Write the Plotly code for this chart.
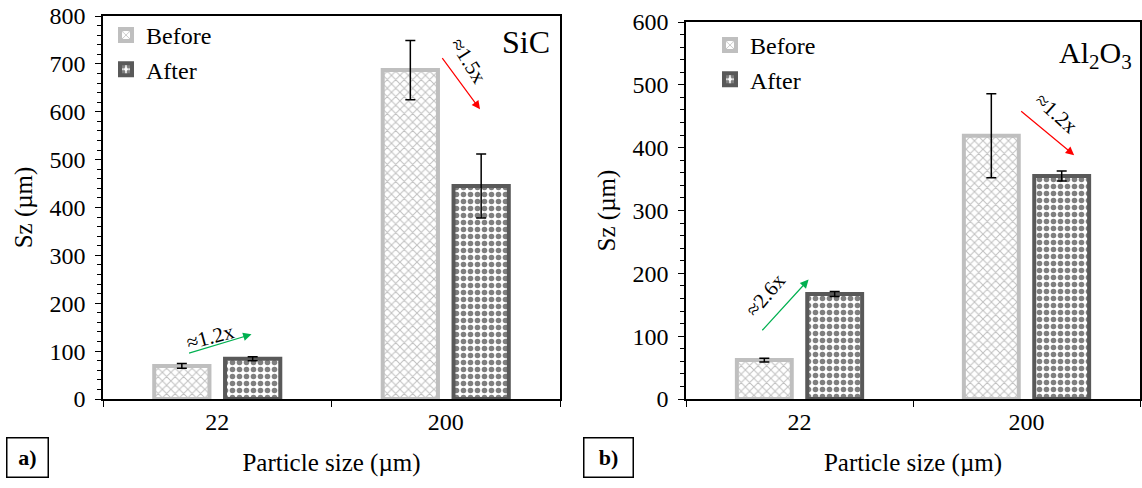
import plotly.graph_objects as go

categories = ["22", "200"]
sic_before = [69, 687]
sic_before_err = [5, 62]
sic_after = [84, 445]
sic_after_err = [4, 67]
al_before = [62, 419]
al_before_err = [3, 67]
al_after = [167, 355]
al_after_err = [4, 8]

FONT = "Times New Roman, Liberation Serif, serif"
before_marker = dict(color="white", line=dict(color="#bfbfbf", width=4),
                     pattern=dict(shape="x", fgcolor="#7f7f7f", bgcolor="white", size=6, solidity=0.3))
after_marker = dict(color="white", line=dict(color="#595959", width=4),
                    pattern=dict(shape=".", fgcolor="black", bgcolor="white", size=7, solidity=0.5))
err = dict(type="data", color="black", thickness=1.5, width=5)

fig = go.Figure()
fig.add_trace(go.Bar(x=categories, y=sic_before, name="Before", marker=before_marker,
                     error_y=dict(array=sic_before_err, **err), xaxis="x", yaxis="y", legend="legend"))
fig.add_trace(go.Bar(x=categories, y=sic_after, name="After", marker=after_marker,
                     error_y=dict(array=sic_after_err, **err), xaxis="x", yaxis="y", legend="legend"))
fig.add_trace(go.Bar(x=categories, y=al_before, name="Before", marker=before_marker,
                     error_y=dict(array=al_before_err, **err), xaxis="x2", yaxis="y2", legend="legend2"))
fig.add_trace(go.Bar(x=categories, y=al_after, name="After", marker=after_marker,
                     error_y=dict(array=al_after_err, **err), xaxis="x2", yaxis="y2", legend="legend2"))

xcommon = dict(type="category", showline=True, linecolor="black", linewidth=1.5, mirror=True,
               ticks="outside", tickson="boundaries", ticklen=6, tickcolor="black", automargin=False,
               tickfont=dict(family=FONT, size=24, color="black"),
               title=dict(text="Particle size (µm)", font=dict(family=FONT, size=25, color="black"), standoff=20),
               showgrid=False)
ycommon = dict(showline=True, linecolor="black", linewidth=1.5, mirror=True, automargin=False,
               ticks="outside", ticklen=6, tickcolor="black", showgrid=False, zeroline=False,
               tickfont=dict(family=FONT, size=24, color="black"), ticklabelstandoff=5,
               title=dict(text="Sz (µm)", font=dict(family=FONT, size=25, color="black"), standoff=10),
               minor=dict(ticks="outside", ticklen=4, tickcolor="black", dtick=20))

fig.update_layout(
    width=1142, height=488, margin=dict(l=0, r=0, t=0, b=0, autoexpand=False),
    paper_bgcolor="white", plot_bgcolor="white",
    barmode="group", bargap=0.38, bargroupgap=0.22,
    xaxis=dict(domain=[103/1142, 560/1142], anchor="y", **xcommon),
    yaxis=dict(domain=[1-399/488, 1-16/488], anchor="x", range=[0, 800], dtick=100, **ycommon),
    xaxis2=dict(domain=[686/1142, 1140/1142], anchor="y2", **xcommon),
    yaxis2=dict(domain=[1-399/488, 1-22/488], anchor="x2", range=[0, 600], dtick=100, **ycommon),
    legend=dict(x=106/1142, y=1-13/488, xanchor="left", yanchor="top", bgcolor="rgba(0,0,0,0)",
                font=dict(family=FONT, size=24, color="black"), itemwidth=30, tracegroupgap=0),
    legend2=dict(x=710/1142, y=1-23/488, xanchor="left", yanchor="top", bgcolor="rgba(0,0,0,0)",
                 font=dict(family=FONT, size=24, color="black"), itemwidth=30, tracegroupgap=0),
    font=dict(family=FONT, color="black"),
)

ann = []
# Material labels
ann.append(dict(text="SiC", xref="paper", yref="paper", x=552/1142, y=1-42/488, xanchor="right",
                yanchor="middle", showarrow=False, font=dict(family=FONT, size=32, color="black")))
ann.append(dict(text="Al<sub>2</sub>O<sub>3</sub>", xref="paper", yref="paper", x=1134/1142, y=1-55/488,
                xanchor="right", yanchor="middle", showarrow=False, font=dict(family=FONT, size=30, color="black")))
# Panel labels
ann.append(dict(text="<b>a)</b>", xref="paper", yref="paper", x=27/1142, y=1-457/488, showarrow=False,
                xanchor="center", yanchor="middle",
                font=dict(family=FONT, size=22, color="black"), bordercolor="black", borderwidth=1.5,
                borderpad=0, width=40, height=38))
ann.append(dict(text="<b>b)</b>", xref="paper", yref="paper", x=608/1142, y=1-457/488, showarrow=False,
                xanchor="center", yanchor="middle",
                font=dict(family=FONT, size=22, color="black"), bordercolor="black", borderwidth=1.5,
                borderpad=0, width=48, height=38))

def arrow(xr, yr, x, y, ax, ay, color):
    return dict(xref=xr, yref=yr, axref=xr, ayref=yr, x=x, y=y, ax=ax, ay=ay, text="", showarrow=True,
                arrowhead=2, arrowsize=1.4, arrowwidth=1.2, arrowcolor=color)

GREEN = "#00b050"
RED = "#ff0000"
# SiC 22 arrow
ann.append(arrow("x", "y", 0.15, 135, -0.13, 95, GREEN))
ann.append(dict(xref="x", yref="y", x=-0.03, y=130, text="≈1.2x", showarrow=False, textangle=-15,
                font=dict(family=FONT, size=21, color="black")))
# SiC 200 arrow
ann.append(arrow("x", "y", 1.15, 605, 0.98, 715, RED))
ann.append(dict(xref="x", yref="y", x=1.10, y=706, text="≈1.5x", showarrow=False, textangle=58,
                font=dict(family=FONT, size=21, color="black")))
# Al2O3 22 arrow
ann.append(arrow("x2", "y2", 0.04, 190, -0.17, 107, GREEN))
ann.append(dict(xref="x2", yref="y2", x=-0.15, y=166, text="≈2.6x", showarrow=False, textangle=-50,
                font=dict(family=FONT, size=21, color="black")))
# Al2O3 200 arrow
ann.append(arrow("x2", "y2", 1.21, 388, 0.97, 460, RED))
ann.append(dict(xref="x2", yref="y2", x=1.13, y=455, text="≈1.2x", showarrow=False, textangle=42,
                font=dict(family=FONT, size=21, color="black")))

fig.update_layout(annotations=ann)
fig.write_html("out.html")
